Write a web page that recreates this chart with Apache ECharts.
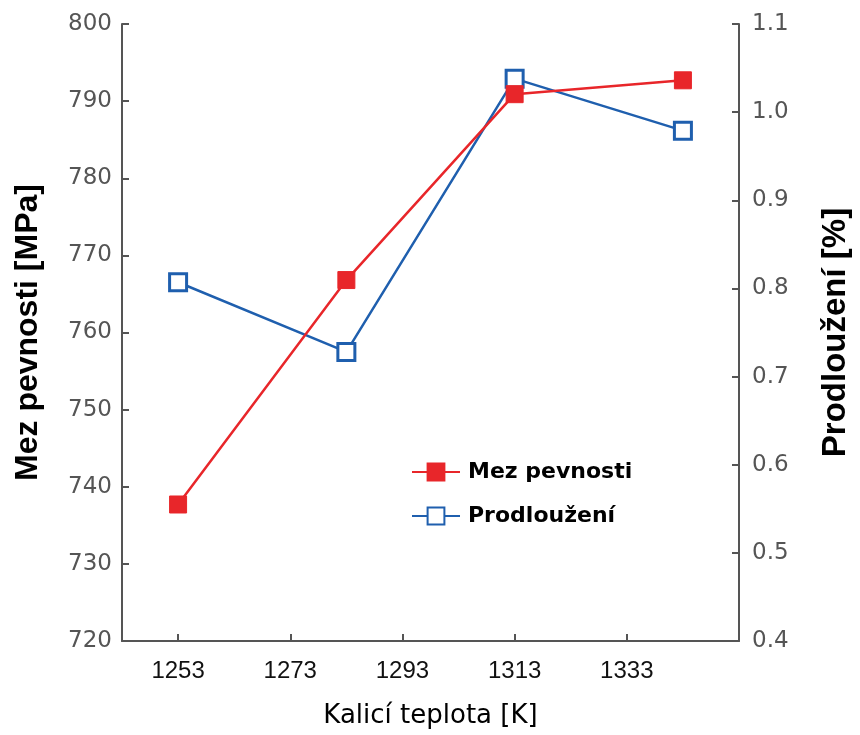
<!DOCTYPE html>
<html>
<head>
<meta charset="utf-8">
<script src="https://cdn.jsdelivr.net/npm/echarts@6/dist/echarts.min.js"></script>
<style>html,body{margin:0;padding:0;background:#fff}#c{width:860px;height:735px}</style>
</head>
<body>
<div id="c"></div>
<script>
const temperatures = [1253, 1283, 1313, 1343];
const mezPevnosti = [737.7, 766.8, 790.9, 792.7];
const prodlouzeni = [0.807, 0.728, 1.038, 0.979];
const xTickValues = [1253, 1273, 1293, 1313, 1333];

const chart = echarts.init(document.getElementById('c'));
const axisColor = '#555';
chart.setOption({
  animation: false,
  backgroundColor: '#fff',
  grid: { left: 122, right: 116, top: 24, bottom: 94 },
  legend: {
    orient: 'vertical',
    left: 406,
    top: 456,
    itemWidth: 48,
    itemHeight: 21,
    itemGap: 22,
    data: ['Mez pevnosti', 'Prodloužení'],
    textStyle: { fontFamily: 'DejaVu Sans', fontWeight: 'bold', fontSize: 22, color: '#000', lineHeight: 22, padding: [0, 0, 0, 3] }
  },
  xAxis: {
    type: 'value',
    min: 1243,
    max: 1353,
    name: 'Kalicí teplota [K]',
    nameLocation: 'middle',
    nameGap: 62,
    nameTextStyle: { fontFamily: 'DejaVu Sans', fontSize: 26, color: '#000' },
    axisLine: { lineStyle: { color: axisColor, width: 2 } },
    axisTick: { inside: true, length: 7, customValues: xTickValues, lineStyle: { color: axisColor, width: 2 } },
    axisLabel: { customValues: xTickValues, margin: 18, formatter: v => String(v), fontFamily: 'Liberation Sans', fontSize: 24, color: '#111' },
    splitLine: { show: false }
  },
  yAxis: [
    {
      type: 'value', min: 720, max: 800, interval: 10,
      name: 'Mez pevnosti [MPa]', nameLocation: 'middle', nameRotate: 90, nameGap: 78,
      nameTextStyle: { fontFamily: 'Liberation Sans', fontWeight: 'bold', fontSize: 32, color: '#000' },
      axisLine: { show: true, lineStyle: { color: axisColor, width: 2 } },
      axisTick: { show: true, inside: true, length: 7, lineStyle: { color: axisColor, width: 2 } },
      axisLabel: { margin: 10, fontFamily: 'DejaVu Sans', fontSize: 23, color: '#555' },
      splitLine: { show: false }
    },
    {
      type: 'value', min: 0.4, max: 1.1, interval: 0.1, position: 'right',
      name: 'Prodloužení [%]', nameLocation: 'middle', nameRotate: 90, nameGap: 80,
      nameTextStyle: { fontFamily: 'Liberation Sans', fontWeight: 'bold', fontSize: 33, color: '#000' },
      axisLine: { show: true, lineStyle: { color: axisColor, width: 2 } },
      axisTick: { show: true, inside: true, length: 7, lineStyle: { color: axisColor, width: 2 } },
      axisLabel: { margin: 13, fontFamily: 'DejaVu Sans', fontSize: 23, color: '#555', formatter: v => v.toFixed(1) },
      splitLine: { show: false }
    }
  ],
  series: [
    {
      name: 'Prodloužení', type: 'line', yAxisIndex: 1,
      data: temperatures.map((t, i) => [t, prodlouzeni[i]]),
      symbol: 'rect', symbolSize: 17,
      lineStyle: { color: '#1f5fae', width: 2.5 },
      itemStyle: { color: '#fff', borderColor: '#1f5fae', borderWidth: 3 }
    },
    {
      name: 'Mez pevnosti', type: 'line', yAxisIndex: 0,
      data: temperatures.map((t, i) => [t, mezPevnosti[i]]),
      symbol: 'rect', symbolSize: 17,
      lineStyle: { color: '#e8262a', width: 2.5 },
      itemStyle: { color: '#e8262a', borderColor: '#e8262a', borderWidth: 1 }
    }
  ]
});
</script>
</body>
</html>
